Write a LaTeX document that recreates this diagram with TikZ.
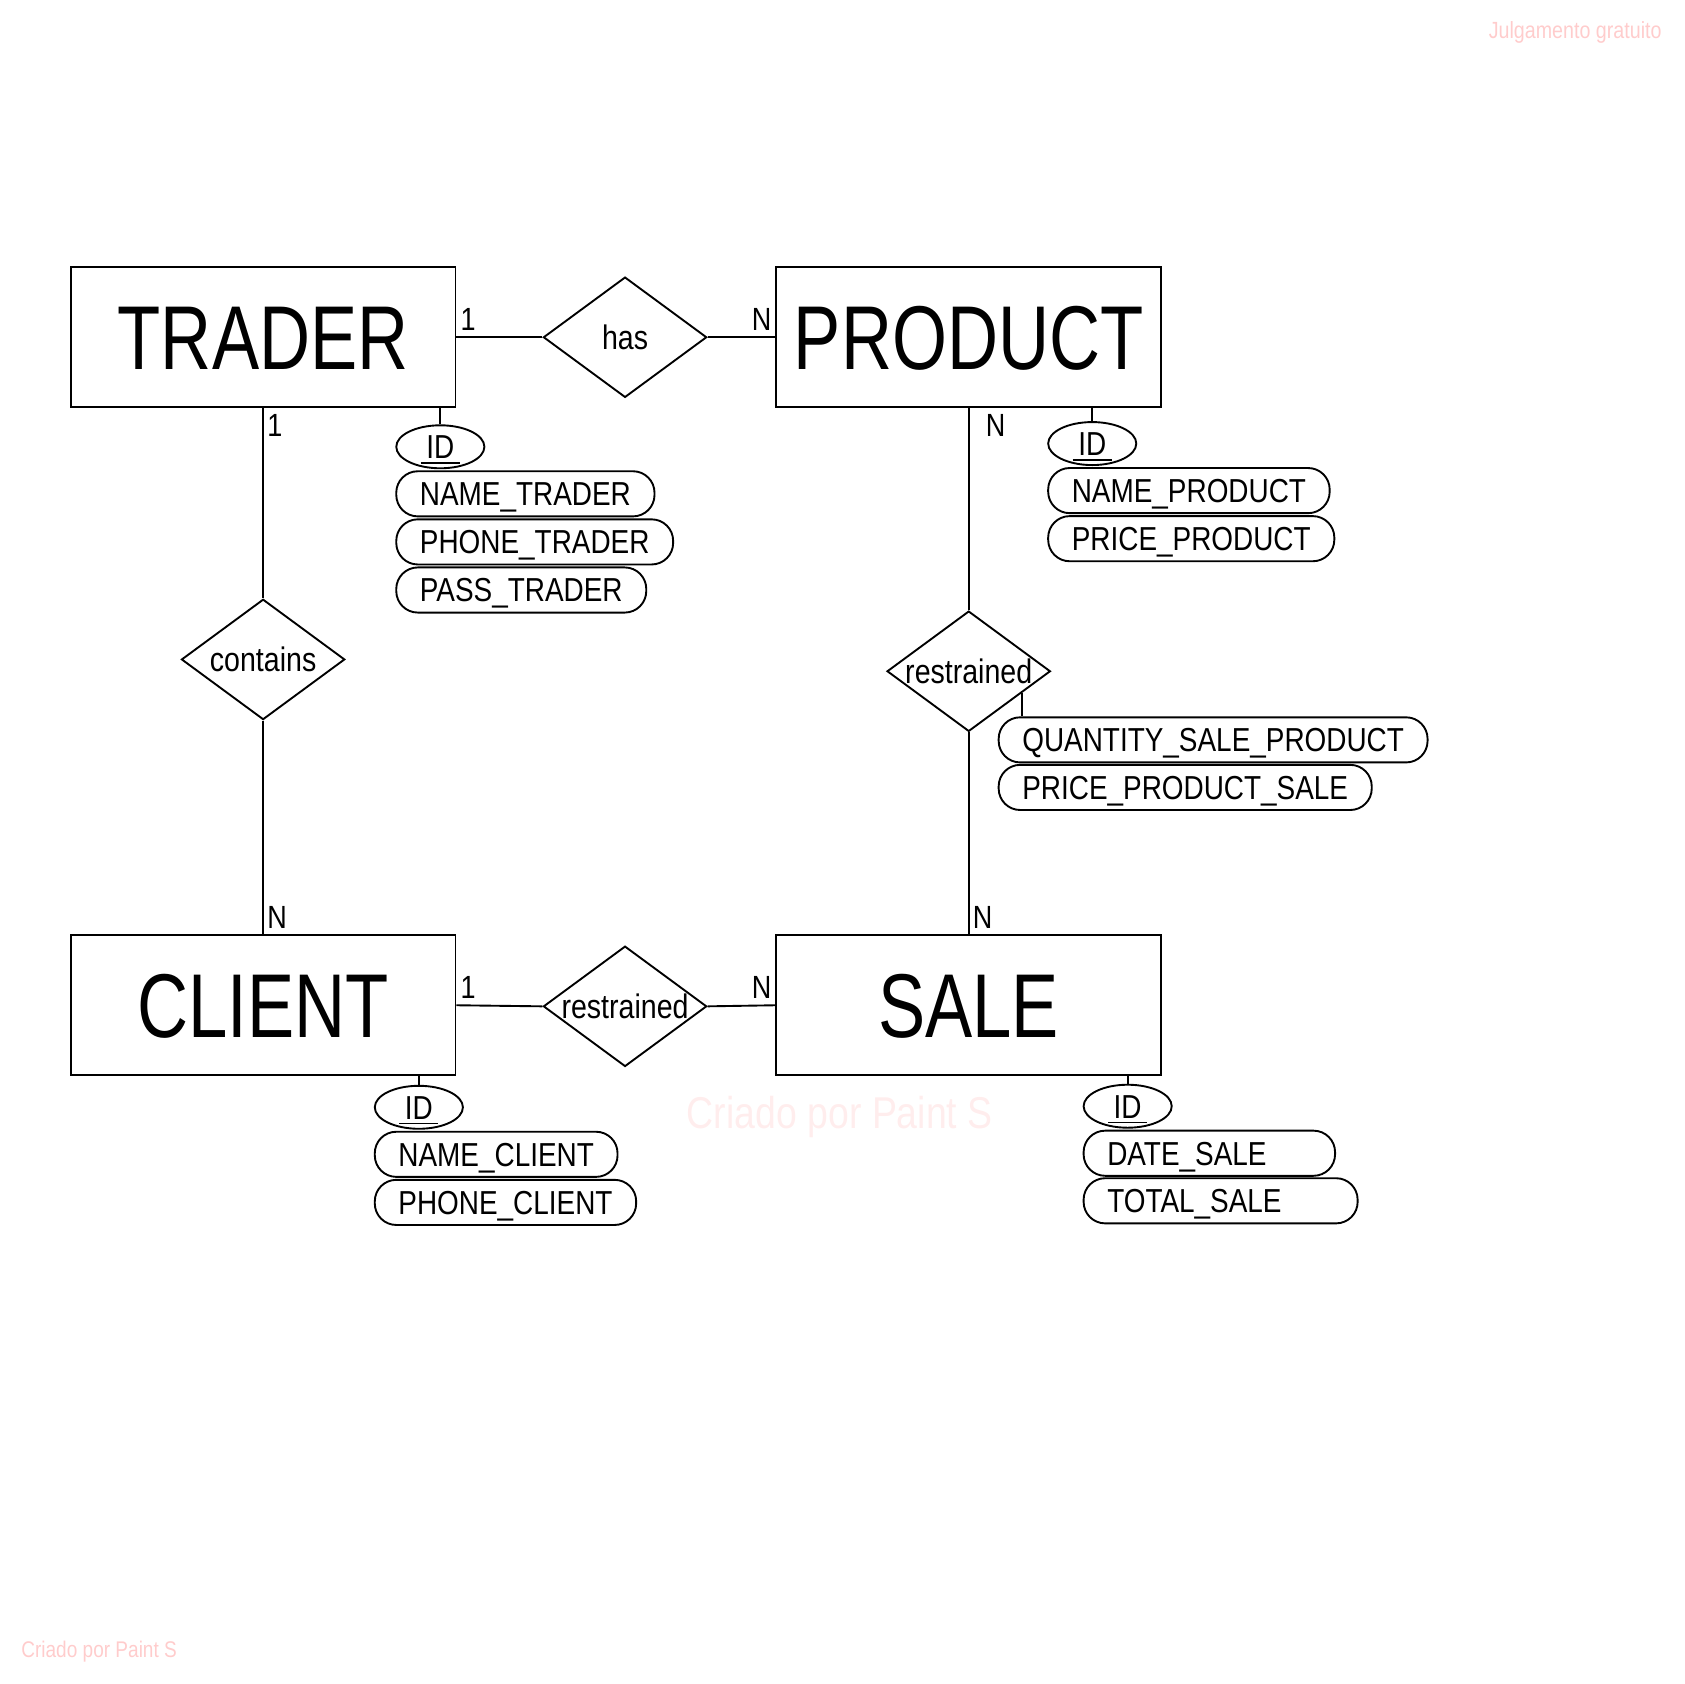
\documentclass[tikz,border=0pt]{standalone}
\usepackage{fontspec}
\setmainfont{Liberation Sans}[FakeStretch=0.84]
\newfontfamily\entityfont{Liberation Sans}[FakeStretch=0.78]
\usetikzlibrary{shapes.geometric,positioning,calc}
\definecolor{marca}{RGB}{255,204,204}
\definecolor{marcaclara}{RGB}{255,237,237}
\newcommand\subrayado[1]{\setbox0\hbox{#1}\rlap{\kern-1.5pt\rule[-1.4pt]{\dimexpr\wd0+3pt\relax}{0.45pt}}\box0}

\begin{document}
\begin{tikzpicture}[x=0.01cm, y=-0.01cm, line width=0.5pt,
    font=\fontsize{9}{11}\selectfont,
    entidad/.style={draw, minimum width=3.58cm, minimum height=1.3cm, inner sep=0,
        text height=17.2pt, text depth=0pt, font=\entityfont\fontsize{24}{28}\selectfont},
    relacion/.style={draw, diamond, minimum width=1.52cm, minimum height=1.12cm, inner sep=0},
    clave/.style={draw, ellipse, minimum width=0.82cm, minimum height=0.4cm, inner sep=0,
        text height=6.3pt, text depth=0pt, font=\fontsize{8.8}{10}\selectfont},
    atributo/.style={draw, rectangle, rounded corners=0.2cm, minimum height=0.42cm,
        inner ysep=0, inner xsep=0.22cm, text height=6.3pt, text depth=0pt,
        font=\fontsize{8.8}{10}\selectfont},
    card/.style={inner xsep=0.03cm, inner ysep=0.05cm, font=\fontsize{8.5}{10}\selectfont},
    node distance=0.005cm]
    % Modelo entidad-relacion
    \useasboundingbox (0,0) rectangle (1568,1568);
    \node[text=marcaclara, inner sep=0, font=\fontsize{11.8}{14}\selectfont] (marca3) at (782,1040) {Criado por Paint S};
    \node[text=marca, inner sep=0, anchor=east, font=\fontsize{6.2}{7}\selectfont] (marca1) at (1548,30) {Julgamento gratuito};
    \node[text=marca, inner sep=0, anchor=west, font=\fontsize{6}{7}\selectfont] (marca2) at (19,1538) {Criado por Paint S};

    \node[entidad] (trader) at (245,314) {TRADER};
    \node[entidad] (product) at (902,314) {PRODUCT};
    \node[entidad] (client) at (245,936) {CLIENT};
    \node[entidad] (sale) at (902,936) {SALE};

    \node[relacion, label=center:has] (has) at (582,314) {};
    \node[relacion, label=center:contains] (contains) at (245,614) {};
    \node[relacion, label=center:restrained] (restrained) at (902,625) {};
    \node[relacion, label=center:restrained] (restrained2) at (582,937) {};

    \draw (trader.east) -- node[card, pos=0, above right] {1} (has.west);
    \draw (has.east) -- node[card, pos=1, above left] {N} (product.west);
    \draw (trader.south) -- node[card, pos=0, below right] {1} (contains.north);
    \draw (contains.south) -- node[card, pos=1, above right] {N} (client.north);
    \draw (product.south) -- node[card, pos=0, below right, xshift=0.12cm] {N} (restrained.north);
    \draw (restrained.south) -- node[card, pos=1, above right] {N} (sale.north);
    \draw (client.east) -- node[card, pos=0, above right] {1} (restrained2.west);
    \draw (restrained2.east) -- node[card, pos=1, above left] {N} (sale.west);

    % atributos
    \node[clave] (t0) at (410,416) {\subrayado{ID}};
    \foreach \a [count=\i, remember=\i as \lasti (initially 0)] in {NAME\_TRADER,PHONE\_TRADER,PASS\_TRADER}
        \node[atributo, anchor=north west, yshift=-0.01cm] (t\i) at (t\lasti.south -| t0.west) {\a};
    \draw (t0.north) -- (t0.north |- trader.south);

    \node[clave] (p0) at (1017,413) {\subrayado{ID}};
    \foreach \a [count=\i, remember=\i as \lasti (initially 0)] in {NAME\_PRODUCT,PRICE\_PRODUCT}
        \node[atributo, anchor=north west, yshift=-0.01cm] (p\i) at (p\lasti.south -| p0.west) {\a};
    \draw (p0.north) -- (p0.north |- product.south);

    \node[clave] (c0) at (390,1031) {\subrayado{ID}};
    \foreach \a [count=\i, remember=\i as \lasti (initially 0)] in {NAME\_CLIENT,PHONE\_CLIENT}
        \node[atributo, anchor=north west, yshift=-0.01cm] (c\i) at (c\lasti.south -| c0.west) {\a};
    \draw (c0.north) -- (c0.north |- client.south);

    \node[clave] (s0) at (1050,1030) {\subrayado{ID}};
    \node[atributo, text width=1.9cm, align=left, anchor=north west, yshift=-0.01cm] (s1) at (s0.south -| s0.west) {DATE\_SALE};
    \node[atributo, text width=2.11cm, align=left, below=of s1.south west, anchor=north west] (s2) {TOTAL\_SALE};
    \draw (s0.north) -- (s0.north |- sale.south);

    \node[atributo, anchor=north west] (q1) at (929,667) {QUANTITY\_SALE\_PRODUCT};
    \node[atributo, below=of q1.south west, anchor=north west] (q2) {PRICE\_PRODUCT\_SALE};
    \coordinate (qpunto) at ($(restrained.east)!0.35!(restrained.south)$);
    \draw (qpunto) -- (qpunto |- q1.north);
\end{tikzpicture}
\end{document}
